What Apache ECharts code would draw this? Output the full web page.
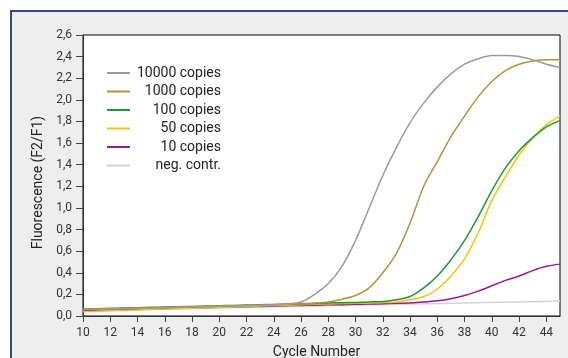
<!DOCTYPE html>
<html>
<head>
<meta charset="utf-8">
<script src="https://cdn.jsdelivr.net/npm/echarts@6/dist/echarts.min.js"></script>
<style>
html,body{margin:0;padding:0;background:#fff;}
#chart{width:568px;height:358px;}
</style>
</head>
<body>
<div id="chart"></div>
<script>
const cycles = [10,11,12,13,14,15,16,17,18,19,20,21,22,23,24,25,26,27,28,29,30,31,32,33,34,35,36,37,38,39,40,41,42,43,44,45];
const seriesNames = ['10000 copies','1000 copies','100 copies','50 copies','10 copies','neg. contr.'];
const copies10000 = [0.06,0.063,0.066,0.069,0.072,0.075,0.078,0.081,0.084,0.087,0.09,0.093,0.096,0.1,0.105,0.112,0.13,0.2,0.3,0.46,0.7,1.0,1.3,1.56,1.79,1.97,2.12,2.24,2.33,2.38,2.41,2.41,2.40,2.37,2.33,2.30];
const copies1000 = [0.06,0.063,0.066,0.069,0.072,0.075,0.078,0.081,0.084,0.087,0.09,0.093,0.097,0.1,0.105,0.11,0.115,0.12,0.13,0.155,0.19,0.26,0.40,0.58,0.86,1.2,1.43,1.66,1.85,2.03,2.17,2.27,2.33,2.36,2.37,2.37];
const copies100 = [0.065,0.068,0.071,0.074,0.077,0.08,0.083,0.086,0.089,0.092,0.095,0.098,0.101,0.104,0.107,0.11,0.113,0.116,0.12,0.123,0.126,0.13,0.135,0.15,0.18,0.26,0.37,0.52,0.70,0.92,1.16,1.37,1.53,1.65,1.75,1.81];
const copies50 = [0.04,0.044,0.048,0.052,0.056,0.06,0.064,0.068,0.072,0.076,0.08,0.084,0.088,0.092,0.096,0.1,0.104,0.108,0.112,0.115,0.118,0.121,0.124,0.13,0.15,0.18,0.25,0.37,0.53,0.77,1.07,1.29,1.49,1.65,1.77,1.85];
const copies10 = [0.05,0.053,0.056,0.059,0.062,0.065,0.068,0.071,0.074,0.077,0.08,0.083,0.086,0.089,0.092,0.095,0.098,0.1,0.103,0.105,0.108,0.11,0.113,0.117,0.12,0.13,0.14,0.16,0.19,0.23,0.28,0.33,0.37,0.42,0.46,0.48];
const negContr = [0.05,0.053,0.055,0.058,0.06,0.063,0.065,0.068,0.07,0.073,0.075,0.078,0.08,0.083,0.085,0.088,0.09,0.093,0.095,0.098,0.1,0.103,0.105,0.108,0.11,0.113,0.115,0.118,0.12,0.123,0.125,0.128,0.13,0.133,0.135,0.14];
const yTicks = [0,0.2,0.4,0.6,0.8,1.0,1.2,1.4,1.6,1.8,2.0,2.2,2.4,2.6];

const allValues = [copies10000, copies1000, copies100, copies50, copies10, negContr];
const colors = ['#9b9b9b','#b8913a','#1b9a3c','#f7c20a','#a0168e','#d4d4d4'];
const FONT = 'Roboto, "Noto Sans", sans-serif';

const chart = echarts.init(document.getElementById('chart'), null, {renderer:'canvas'});
const series = seriesNames.map((name,i)=>({
  name: name,
  type: 'line',
  smooth: 0.3,
  symbol: 'none',
  z: 10 - i,
  lineStyle: {color: colors[i], width: 1.5},
  itemStyle: {color: colors[i]},
  data: cycles.map((c,j)=>[c, allValues[i][j]])
}));
series.reverse();

chart.setOption({
  backgroundColor: '#ffffff',
  animation: false,
  textStyle: {fontFamily: FONT},
  graphic: [{
    type: 'rect', z: -100, silent: true,
    shape: {x: 11, y: 11, width: 620, height: 420},
    style: {fill: '#eeeeee', stroke: '#34497d', lineWidth: 2}
  }],
  grid: {left: 83, top: 35, right: 8, bottom: 42, containLabel: false, outerBoundsMode: 'none',
    show: true, backgroundColor: '#ffffff', borderColor: '#000000', borderWidth: 1},
  legend: {
    orient: 'vertical', left: 107, top: 66, padding: 0,
    itemWidth: 23, itemHeight: 2, itemGap: 4.5, icon: 'rect',
    data: seriesNames,
    formatter: n => '{a|' + n + '}',
    textStyle: {fontFamily: FONT, fontSize: 14, color: '#222', rich: {a: {width: 86, align: 'right', fontSize: 14, color: '#222', fontFamily: FONT}}}
  },
  xAxis: {
    type: 'value', min: 10, max: 45, interval: 2,
    name: 'Cycle Number', nameLocation: 'middle', nameGap: 29,
    nameTextStyle: {fontSize: 14, color: '#222', fontFamily: FONT, padding: [0, 10, 0, 0]},
    axisLine: {show: true, lineStyle: {color: '#333'}},
    axisTick: {show: true, length: 6, lineStyle: {color: '#444'}},
    axisLabel: {fontSize: 12, color: '#333', margin: 11, showMaxLabel: false, fontFamily: FONT},
    splitLine: {show: false}
  },
  yAxis: {
    type: 'value', min: 0, max: 2.6, interval: 0.2,
    name: 'Fluorescence (F2/F1)', nameLocation: 'middle', nameGap: 38,
    nameTextStyle: {fontSize: 14, color: '#222', fontFamily: FONT, padding: [0, 14, 0, 0]},
    axisLine: {show: true, lineStyle: {color: '#333'}},
    axisTick: {show: true, length: 7, lineStyle: {color: '#444'}},
    axisLabel: {fontSize: 12, color: '#333', margin: 11, fontFamily: FONT,
      formatter: v => { const t = yTicks.find(y => Math.abs(y - v) < 1e-6); return (t !== undefined ? t : v).toFixed(1).replace('.', ','); }},
    splitLine: {show: false}
  },
  series: series
});
</script>
</body>
</html>
